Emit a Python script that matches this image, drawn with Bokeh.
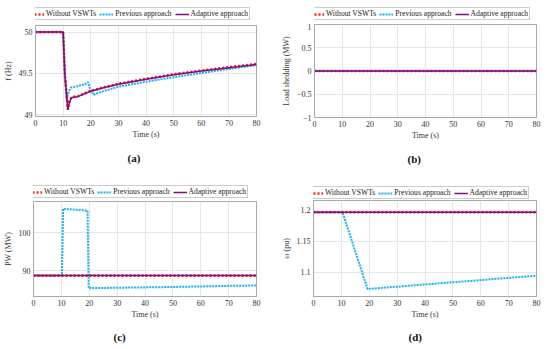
from bokeh.plotting import figure
from bokeh.layouts import column, row
from bokeh.models import Legend, LegendItem, Range1d, FixedTicker
from bokeh.embed import file_html
from bokeh.resources import INLINE

# ---------------- data ----------------
x_ticks = [0, 10, 20, 30, 40, 50, 60, 70, 80]

# (a) frequency
time_a = [0, 10, 10.6, 11.7, 12.3, 13.1, 15.3, 20, 25, 30, 40, 50, 60, 70, 80]
freq_without = [50, 50, 49.5, 49.065, 49.16, 49.215, 49.225, 49.29, 49.335, 49.375, 49.435, 49.49, 49.535, 49.575, 49.615]
freq_adaptive = [50, 50, 49.5, 49.06, 49.155, 49.21, 49.22, 49.285, 49.33, 49.37, 49.43, 49.485, 49.53, 49.57, 49.61]
time_a_prev = [0, 10, 10.6, 11.3, 12.0, 12.9, 15, 18, 19.1, 19.6, 21, 23, 26, 30, 40, 50, 60, 70, 80]
freq_prev = [50, 50, 49.5, 49.18, 49.28, 49.33, 49.345, 49.37, 49.395, 49.33, 49.24, 49.27, 49.30, 49.34, 49.40, 49.455, 49.505, 49.555, 49.60]
freq_yticks = [49, 49.5, 50]

# (b) load shedding
time_b = [0, 80]
shed_without = [0, 0]
shed_prev = [0, 0]
shed_adaptive = [0, 0]
shed_yticks = [-1, -0.5, 0, 0.5, 1]

# (c) wind power
time_c = [0, 80]
pw_without = [88.7, 88.7]
pw_adaptive = [88.7, 88.7]
time_c_prev = [0, 10.2, 10.6, 19.4, 19.8, 30, 40, 50, 60, 70, 80]
pw_prev = [88.7, 88.7, 106.3, 105.8, 85.4, 85.5, 85.6, 85.7, 85.85, 86.0, 86.1]
pw_yticks = [90, 100]

# (d) rotor speed
time_d = [0, 80]
w_without = [1.197, 1.197]
w_adaptive = [1.197, 1.197]
time_d_prev = [0, 10.4, 19.4, 40, 60, 80]
w_prev = [1.197, 1.197, 1.073, 1.0805, 1.0875, 1.0946]
w_yticks = [1.1, 1.15, 1.2]

labels = ["Without VSWTs", "Previous approach", "Adaptive approach"]

RED = "#ff1f1f"
CYAN = "#1ab2ee"
PURPLE = "#800a80"
FONT = "Liberation Serif"

RED_STYLE = dict(color=RED, line_width=2.6, line_dash="2 2")
CYAN_STYLE = dict(color=CYAN, line_width=2, line_dash="2 1")
PURPLE_STYLE = dict(color=PURPLE, line_width=1.5)
NAN = [float("nan")]


def make_legend_fig(width, height, lx, ly, bl, br):
    q = figure(width=width, height=height, x_range=Range1d(0, width), y_range=Range1d(0, height),
               output_backend="svg", toolbar_location=None,
               x_axis_type=None, y_axis_type=None,
               min_border_left=bl, min_border_right=br, min_border_top=0, min_border_bottom=0)
    q.outline_line_color = None
    q.grid.visible = False
    q.background_fill_color = "white"
    q.border_fill_color = "white"
    r_w = q.line(x=NAN, y=NAN, **RED_STYLE)
    r_p = q.line(x=NAN, y=NAN, **CYAN_STYLE)
    r_a = q.line(x=NAN, y=NAN, **PURPLE_STYLE)
    legend = Legend(items=[LegendItem(label=labels[0], renderers=[r_w]),
                           LegendItem(label=labels[1], renderers=[r_p]),
                           LegendItem(label=labels[2], renderers=[r_a])],
                    orientation="horizontal", location=(lx, ly),
                    label_text_font=FONT, label_text_font_size="7.6px",
                    label_text_color="#222222",
                    glyph_width=14, glyph_height=8, label_standoff=2,
                    spacing=3, padding=1, margin=0, label_height=9,
                    border_line_color="#999999",
                    background_fill_color="white")
    q.add_layout(legend)
    return q


def make_panel(width, height, yr, yticks, ylabel, title, bl, br, bt, bb,
               t_w, y_w, t_p, y_p, t_a, y_a, toffset, standoff, overrides=None):
    p = figure(width=width, height=height, x_range=Range1d(0, 80),
               y_range=Range1d(*yr), output_backend="svg",
               toolbar_location=None, title=title, title_location="below",
               min_border_left=bl, min_border_right=br,
               min_border_top=bt, min_border_bottom=bb)
    p.background_fill_color = "white"
    p.border_fill_color = "white"
    p.outline_line_color = "#a8a8a8"
    p.title.text_font = FONT
    p.title.text_font_size = "11px"
    p.title.text_font_style = "bold"
    p.title.text_color = "#111111"
    p.title.align = "left"
    p.title.offset = toffset
    p.title.standoff = standoff
    p.xaxis.ticker = FixedTicker(ticks=x_ticks)
    p.yaxis.ticker = FixedTicker(ticks=yticks)
    if overrides:
        p.yaxis.major_label_overrides = overrides
    for ax in (p.xaxis, p.yaxis):
        ax.axis_line_color = "#a8a8a8"
        ax.major_tick_line_color = None
        ax.minor_tick_line_color = None
        ax.major_tick_out = 0
        ax.major_tick_in = 0
        ax.minor_tick_out = 0
        ax.major_label_text_font = FONT
        ax.major_label_text_font_size = "8px"
        ax.major_label_text_color = "#333333"
        ax.axis_label_text_font = FONT
        ax.axis_label_text_font_size = "8px"
        ax.axis_label_text_font_style = "normal"
        ax.axis_label_text_color = "#333333"
        ax.major_label_standoff = 3
        ax.axis_label_standoff = 1
    p.yaxis.major_label_standoff = 3
    p.yaxis.axis_label_standoff = 3
    p.xaxis.axis_label = "Time (s)"
    p.yaxis.axis_label = ylabel
    p.grid.grid_line_color = "#e6e6e6"
    p.xgrid.ticker = FixedTicker(ticks=x_ticks)
    p.ygrid.ticker = FixedTicker(ticks=yticks)

    p.line(t_p, y_p, **CYAN_STYLE)
    p.line(t_w, y_w, **RED_STYLE)
    p.line(t_a, y_a, **PURPLE_STYLE)
    return p


la = make_legend_fig(275, 23, -7, 3, 35, 19)
pa = make_panel(275, 152, (48.98, 50.08), freq_yticks, "f (Hz)", "(a)",
                35, 19, 2, 59,
                time_a, freq_without, time_a_prev, freq_prev, time_a, freq_adaptive,
                92, 16)
lb = make_legend_fig(275, 23, -6, 3, 39, 14)
pb = make_panel(275, 152, (-1, 1), shed_yticks, "Load shedding (MW)", "(b)",
                39, 14, 1, 58,
                time_b, shed_without, time_b, shed_prev, time_b, shed_adaptive,
                93, 16, overrides={-1: "\u22121", -0.5: "\u22120.5"})
lc = make_legend_fig(275, 24, -7, 1, 33, 19)
pc = make_panel(275, 150, (83.2, 108.2), pw_yticks, "PW (MW)", "(c)",
                33, 19, 2, 53,
                time_c, pw_without, time_c_prev, pw_prev, time_c, pw_adaptive,
                80, 14)
ld = make_legend_fig(275, 24, -6, 0, 38, 14)
pd = make_panel(275, 150, (1.061, 1.216), w_yticks, "\u03c9 (pu)", "(d)",
                38, 14, 1, 53,
                time_d, w_without, time_d_prev, w_prev, time_d, w_adaptive,
                95, 14)

layout = column(row(column(la, pa), column(lb, pb)),
                row(column(lc, pc), column(ld, pd)))
open("out.html", "w").write(file_html(layout, INLINE))
